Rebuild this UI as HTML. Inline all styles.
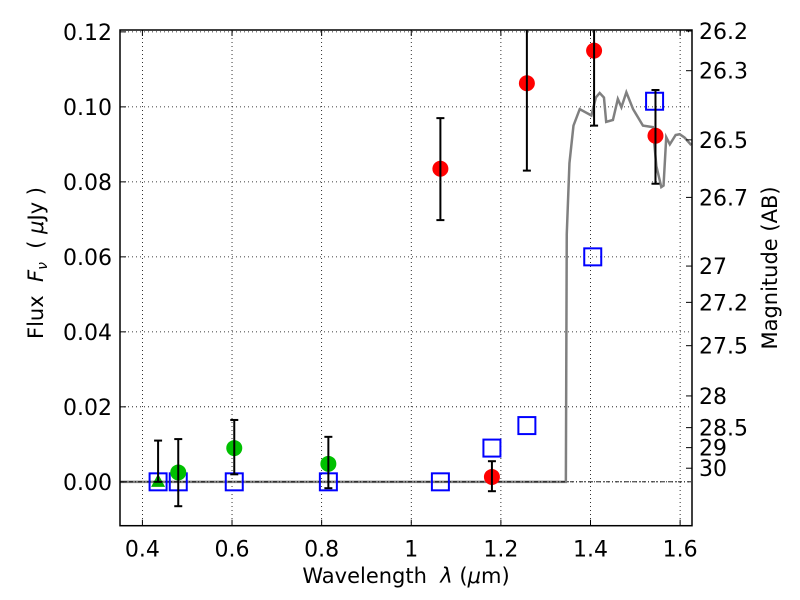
<!DOCTYPE html>
<html><head><meta charset="utf-8"><style>
body{margin:0;background:#fff;}
svg{display:block;font-family:"DejaVu Sans","Liberation Sans",sans-serif;}
</style></head><body>
<svg id="chart" width="800" height="600" viewBox="0 0 800 600"></svg>
<script>
const xTicks=[0.4,0.6,0.8,1.0,1.2,1.4,1.6];
const xTickLabels=["0.4","0.6","0.8","1","1.2","1.4","1.6"];
const yTicks=[0,0.02,0.04,0.06,0.08,0.1,0.12];
const yTickLabels=["0.00","0.02","0.04","0.06","0.08","0.10","0.12"];
const magTicks=[26.2,26.3,26.5,26.7,27,27.2,27.5,28,28.5,29,30];
const magTickLabels=["26.2","26.3","26.5","26.7","27","27.2","27.5","28","28.5","29","30"];
const triX=[0.435],triY=[0],triLo=[0],triHi=[0.011];
const greenX=[0.48,0.605,0.815];
const greenY=[0.0025,0.009,0.0048];
const greenLo=[-0.0065,0.002,-0.0017];
const greenHi=[0.0114,0.0165,0.012];
const redX=[1.065,1.18,1.258,1.408,1.545];
const redY=[0.0835,0.0013,0.1063,0.115,0.0923];
const redLo=[0.0698,-0.0025,0.083,0.095,0.0795];
const redHi=[0.097,0.0055,0.125,0.125,0.1045];
const sqX=[0.435,0.48,0.605,0.815,1.065,1.18,1.258,1.405,1.543];
const sqY=[0,0,0,0,0,0.009,0.015,0.060,0.1015];
const modelX=[0.35,1.345,1.347,1.353,1.362,1.376,1.402,1.412,1.4205,1.43,1.435,1.45,1.461,1.469,1.48,1.495,1.517,1.539,1.547,1.558,1.563,1.569,1.577,1.59,1.599,1.61,1.625];
const modelY=[0,0,0.066,0.085,0.095,0.0994,0.0977,0.1025,0.1037,0.1025,0.096,0.0965,0.1021,0.0999,0.1039,0.0994,0.095,0.0946,0.0842,0.0786,0.079,0.0919,0.090,0.0925,0.0927,0.0918,0.0898];

const L=120,R=692,T=30,B=525.7;
const X0=0.35,X1=1.6265,Y0=-0.0117,Y1=0.1205;
const sx=v=>L+(v-X0)/(X1-X0)*(R-L);
const sy=v=>B-(v-Y0)/(Y1-Y0)*(B-T);
const magToFlux=m=>Math.pow(10,-0.4*(m-23.9));
const svg=document.getElementById('chart');
const NS='http://www.w3.org/2000/svg';
function mk(tag,attrs,parent){const e=document.createElementNS(NS,tag);for(const k in attrs)e.setAttribute(k,attrs[k]);(parent||svg).appendChild(e);return e;}
const clip=mk('clipPath',{id:'pc'});mk('rect',{x:L,y:T,width:R-L,height:B-T},clip);

const grid=mk('g',{});


xTicks.forEach(v=>{mk('line',{x1:sx(v),x2:sx(v),y1:T,y2:B,stroke:'#000','stroke-width':0.8,'stroke-dasharray':'1,3'},grid);});
yTicks.forEach(v=>{mk('line',{x1:L,x2:R,y1:sy(v),y2:sy(v),stroke:'#000','stroke-width':0.8,'stroke-dasharray':'1,3'},grid);});

const pg=mk('g',{'clip-path':'url(#pc)'});
const m=mk('polyline',{points:modelX.map((x,i)=>sx(x)+','+sy(modelY[i])).join(' '),fill:'none',stroke:'#808080','stroke-width':2.5},pg);


mk('line',{x1:L,x2:R,y1:sy(0),y2:sy(0),stroke:'#000','stroke-width':0.8,'stroke-dasharray':'4,2,1,2'},pg);

function ebar(x,lo,hi,g){mk('line',{x1:sx(x),x2:sx(x),y1:sy(lo),y2:sy(Math.min(hi,Y1+0.01)),stroke:'#000','stroke-width':2},g);
 mk('line',{x1:sx(x)-4,x2:sx(x)+4,y1:sy(lo),y2:sy(lo),stroke:'#000','stroke-width':2},g);
 if(hi<Y1) mk('line',{x1:sx(x)-4,x2:sx(x)+4,y1:sy(hi),y2:sy(hi),stroke:'#000','stroke-width':2},g);}

sqX.forEach((x,i)=>{const r=mk('rect',{x:sx(x)-8.5,y:sy(sqY[i])-8.5,width:17,height:17,fill:'none',stroke:'#0000ff','stroke-width':2},pg);
 
 });
triX.forEach((x,i)=>{const cx=sx(x),cy=sy(triY[i]);const t=mk('polygon',{points:`${cx},${cy-8} ${cx-7},${cy+5} ${cx+7},${cy+5}`,fill:'#00b000'},pg);
 
 
 ebar(x,triLo[i],triHi[i],pg);});
greenX.forEach((x,i)=>{const c=mk('circle',{cx:sx(x),cy:sy(greenY[i]),r:8,fill:'#00c000'},pg);
 
 
 ebar(x,greenLo[i],greenHi[i],pg);});
redX.forEach((x,i)=>{const c=mk('circle',{cx:sx(x),cy:sy(redY[i]),r:8,fill:'#ff0000'},pg);
 
 
 ebar(x,redLo[i],redHi[i],pg);});

const fr=mk('rect',{x:L,y:T,width:R-L,height:B-T,fill:'none',stroke:'#000','stroke-width':1.5});



xTicks.forEach((v,i)=>{mk('line',{x1:sx(v),x2:sx(v),y1:B,y2:B-6,stroke:'#000'});mk('line',{x1:sx(v),x2:sx(v),y1:T,y2:T+6,stroke:'#000'});
 const t=mk('text',{x:sx(v),y:B+31,'text-anchor':'middle','font-size':22});t.textContent=xTickLabels[i];
 
 });
yTicks.forEach((v,i)=>{mk('line',{x1:L,x2:L+6,y1:sy(v),y2:sy(v),stroke:'#000'});
 const t=mk('text',{x:L-8,y:sy(v)+8,'text-anchor':'end','font-size':22});t.textContent=yTickLabels[i];
 
 });
magTicks.forEach((mg,i)=>{const y=sy(magToFlux(mg));mk('line',{x1:R,x2:R-6,y1:y,y2:y,stroke:'#000'});
 const t=mk('text',{x:R+7,y:y+8,'text-anchor':'start','font-size':22});t.textContent=magTickLabels[i];
 
 });

const xl=mk('text',{x:406,y:583,'text-anchor':'middle','font-size':21});
xl.innerHTML='Wavelength &#160;<tspan font-style="italic">λ</tspan> (<tspan font-style="italic">μ</tspan>m)';


const yl=mk('text',{x:0,y:0,'text-anchor':'middle','font-size':21,transform:'translate(43,263) rotate(-90)'});
yl.innerHTML='Flux &#160;<tspan font-style="italic">F</tspan><tspan font-style="italic" font-size="14" dy="4">ν</tspan><tspan dy="-4"> &#160;( </tspan><tspan font-style="italic">μ</tspan>Jy )';


const rl=mk('text',{x:0,y:0,'text-anchor':'middle','font-size':21,transform:'translate(777,268) rotate(-90)'});
rl.textContent='Magnitude (AB)';


</script>
</body></html>
